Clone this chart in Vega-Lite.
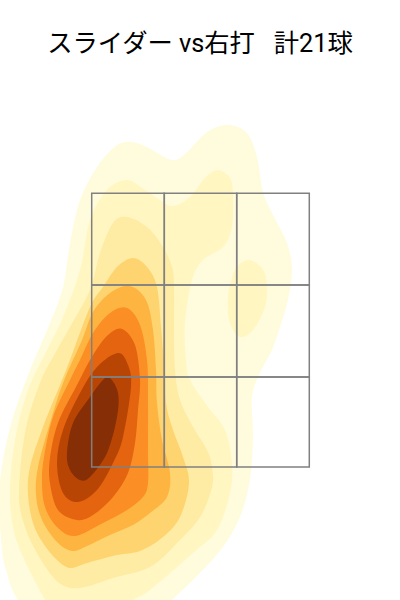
{"$schema":"https://vega.github.io/schema/vega-lite/v6.json","width":400,"height":600,"padding":0,"autosize":"none","background":"white",
"config":{"view":{"stroke":null}},
"title":{"text":"スライダー vs右打\u00a0\u00a0\u00a0計21球","font":"Roboto, 'Noto Sans CJK JP'","fontSize":25.3,"fontWeight":"normal","color":"#000000","anchor":"middle","baseline":"alphabetic","offset":-77},
"datasets":{"cells":[
{"x1":91.7,"x2":164.3,"y1":193.3,"y2":285},{"x1":164.3,"x2":236.7,"y1":193.3,"y2":285},{"x1":236.7,"x2":309.3,"y1":193.3,"y2":285},
{"x1":91.7,"x2":164.3,"y1":285,"y2":377},{"x1":164.3,"x2":236.7,"y1":285,"y2":377},{"x1":236.7,"x2":309.3,"y1":285,"y2":377},
{"x1":91.7,"x2":164.3,"y1":377,"y2":467},{"x1":164.3,"x2":236.7,"y1":377,"y2":467},{"x1":236.7,"x2":309.3,"y1":377,"y2":467}],
"contours":[
{"level":"L1","ring":"L1","seq":1,"x":132,"y":142},{"level":"L1","ring":"L1","seq":2,"x":147,"y":147},{"level":"L1","ring":"L1","seq":3,"x":172,"y":160},{"level":"L1","ring":"L1","seq":4,"x":187,"y":152},{"level":"L1","ring":"L1","seq":5,"x":207,"y":132},{"level":"L1","ring":"L1","seq":6,"x":228,"y":125},{"level":"L1","ring":"L1","seq":7,"x":247,"y":133},{"level":"L1","ring":"L1","seq":8,"x":257,"y":157},{"level":"L1","ring":"L1","seq":9,"x":263,"y":192},{"level":"L1","ring":"L1","seq":10,"x":272,"y":213},{"level":"L1","ring":"L1","seq":11,"x":287,"y":243},{"level":"L1","ring":"L1","seq":12,"x":292,"y":270},{"level":"L1","ring":"L1","seq":13,"x":288,"y":300},{"level":"L1","ring":"L1","seq":14,"x":280,"y":327},{"level":"L1","ring":"L1","seq":15,"x":272,"y":350},{"level":"L1","ring":"L1","seq":16,"x":260,"y":373},{"level":"L1","ring":"L1","seq":17,"x":252,"y":397},{"level":"L1","ring":"L1","seq":18,"x":253,"y":437},{"level":"L1","ring":"L1","seq":19,"x":250,"y":480},{"level":"L1","ring":"L1","seq":20,"x":240,"y":517},{"level":"L1","ring":"L1","seq":21,"x":223,"y":547},{"level":"L1","ring":"L1","seq":22,"x":200,"y":573},{"level":"L1","ring":"L1","seq":23,"x":172,"y":600},{"level":"L1","ring":"L1","seq":24,"x":140,"y":630},{"level":"L1","ring":"L1","seq":25,"x":60,"y":650},{"level":"L1","ring":"L1","seq":26,"x":18,"y":600},{"level":"L1","ring":"L1","seq":27,"x":7,"y":573},{"level":"L1","ring":"L1","seq":28,"x":2,"y":550},{"level":"L1","ring":"L1","seq":29,"x":-1,"y":500},{"level":"L1","ring":"L1","seq":30,"x":3,"y":460},{"level":"L1","ring":"L1","seq":31,"x":13,"y":417},{"level":"L1","ring":"L1","seq":32,"x":30,"y":370},{"level":"L1","ring":"L1","seq":33,"x":50,"y":323},{"level":"L1","ring":"L1","seq":34,"x":63,"y":287},{"level":"L1","ring":"L1","seq":35,"x":70,"y":243},{"level":"L1","ring":"L1","seq":36,"x":80,"y":200},{"level":"L1","ring":"L1","seq":37,"x":97,"y":167},{"level":"L1","ring":"L1","seq":38,"x":117,"y":145},
{"level":"L2","ring":"L2a","seq":1,"x":127,"y":180},{"level":"L2","ring":"L2a","seq":2,"x":145,"y":190},{"level":"L2","ring":"L2a","seq":3,"x":160,"y":200},{"level":"L2","ring":"L2a","seq":4,"x":173,"y":206},{"level":"L2","ring":"L2a","seq":5,"x":190,"y":197},{"level":"L2","ring":"L2a","seq":6,"x":205,"y":178},{"level":"L2","ring":"L2a","seq":7,"x":218,"y":170},{"level":"L2","ring":"L2a","seq":8,"x":230,"y":178},{"level":"L2","ring":"L2a","seq":9,"x":233,"y":195},{"level":"L2","ring":"L2a","seq":10,"x":232,"y":227},{"level":"L2","ring":"L2a","seq":11,"x":223,"y":247},{"level":"L2","ring":"L2a","seq":12,"x":203,"y":260},{"level":"L2","ring":"L2a","seq":13,"x":192,"y":280},{"level":"L2","ring":"L2a","seq":14,"x":185,"y":323},{"level":"L2","ring":"L2a","seq":15,"x":186,"y":360},{"level":"L2","ring":"L2a","seq":16,"x":190,"y":380},{"level":"L2","ring":"L2a","seq":17,"x":208,"y":407},{"level":"L2","ring":"L2a","seq":18,"x":225,"y":430},{"level":"L2","ring":"L2a","seq":19,"x":232,"y":463},{"level":"L2","ring":"L2a","seq":20,"x":230,"y":493},{"level":"L2","ring":"L2a","seq":21,"x":217,"y":530},{"level":"L2","ring":"L2a","seq":22,"x":193,"y":553},{"level":"L2","ring":"L2a","seq":23,"x":150,"y":590},{"level":"L2","ring":"L2a","seq":24,"x":133,"y":600},{"level":"L2","ring":"L2a","seq":25,"x":90,"y":625},{"level":"L2","ring":"L2a","seq":26,"x":60,"y":625},{"level":"L2","ring":"L2a","seq":27,"x":45,"y":600},{"level":"L2","ring":"L2a","seq":28,"x":23,"y":557},{"level":"L2","ring":"L2a","seq":29,"x":13,"y":527},{"level":"L2","ring":"L2a","seq":30,"x":10,"y":490},{"level":"L2","ring":"L2a","seq":31,"x":15,"y":440},{"level":"L2","ring":"L2a","seq":32,"x":28,"y":390},{"level":"L2","ring":"L2a","seq":33,"x":47,"y":350},{"level":"L2","ring":"L2a","seq":34,"x":63,"y":317},{"level":"L2","ring":"L2a","seq":35,"x":80,"y":270},{"level":"L2","ring":"L2a","seq":36,"x":90,"y":220},{"level":"L2","ring":"L2a","seq":37,"x":107,"y":190},
{"level":"L2","ring":"L2b","seq":1,"x":248,"y":260},{"level":"L2","ring":"L2b","seq":2,"x":262,"y":268},{"level":"L2","ring":"L2b","seq":3,"x":267,"y":285},{"level":"L2","ring":"L2b","seq":4,"x":265,"y":307},{"level":"L2","ring":"L2b","seq":5,"x":253,"y":330},{"level":"L2","ring":"L2b","seq":6,"x":240,"y":337},{"level":"L2","ring":"L2b","seq":7,"x":230,"y":323},{"level":"L2","ring":"L2b","seq":8,"x":228,"y":297},{"level":"L2","ring":"L2b","seq":9,"x":235,"y":270},
{"level":"L3","ring":"L3","seq":1,"x":127,"y":217},{"level":"L3","ring":"L3","seq":2,"x":147,"y":227},{"level":"L3","ring":"L3","seq":3,"x":163,"y":247},{"level":"L3","ring":"L3","seq":4,"x":172,"y":267},{"level":"L3","ring":"L3","seq":5,"x":174,"y":287},{"level":"L3","ring":"L3","seq":6,"x":174,"y":330},{"level":"L3","ring":"L3","seq":7,"x":175,"y":370},{"level":"L3","ring":"L3","seq":8,"x":180,"y":400},{"level":"L3","ring":"L3","seq":9,"x":193,"y":427},{"level":"L3","ring":"L3","seq":10,"x":207,"y":450},{"level":"L3","ring":"L3","seq":11,"x":212,"y":467},{"level":"L3","ring":"L3","seq":12,"x":212,"y":487},{"level":"L3","ring":"L3","seq":13,"x":200,"y":517},{"level":"L3","ring":"L3","seq":14,"x":177,"y":543},{"level":"L3","ring":"L3","seq":15,"x":150,"y":567},{"level":"L3","ring":"L3","seq":16,"x":113,"y":578},{"level":"L3","ring":"L3","seq":17,"x":85,"y":587},{"level":"L3","ring":"L3","seq":18,"x":67,"y":587},{"level":"L3","ring":"L3","seq":19,"x":53,"y":577},{"level":"L3","ring":"L3","seq":20,"x":37,"y":553},{"level":"L3","ring":"L3","seq":21,"x":25,"y":527},{"level":"L3","ring":"L3","seq":22,"x":19,"y":495},{"level":"L3","ring":"L3","seq":23,"x":25,"y":433},{"level":"L3","ring":"L3","seq":24,"x":40,"y":383},{"level":"L3","ring":"L3","seq":25,"x":57,"y":350},{"level":"L3","ring":"L3","seq":26,"x":70,"y":327},{"level":"L3","ring":"L3","seq":27,"x":90,"y":290},{"level":"L3","ring":"L3","seq":28,"x":100,"y":253},{"level":"L3","ring":"L3","seq":29,"x":113,"y":223},
{"level":"L4","ring":"L4","seq":1,"x":133,"y":258},{"level":"L4","ring":"L4","seq":2,"x":147,"y":267},{"level":"L4","ring":"L4","seq":3,"x":157,"y":287},{"level":"L4","ring":"L4","seq":4,"x":161,"y":327},{"level":"L4","ring":"L4","seq":5,"x":163,"y":350},{"level":"L4","ring":"L4","seq":6,"x":165,"y":370},{"level":"L4","ring":"L4","seq":7,"x":166,"y":403},{"level":"L4","ring":"L4","seq":8,"x":173,"y":430},{"level":"L4","ring":"L4","seq":9,"x":183,"y":457},{"level":"L4","ring":"L4","seq":10,"x":189,"y":483},{"level":"L4","ring":"L4","seq":11,"x":180,"y":517},{"level":"L4","ring":"L4","seq":12,"x":163,"y":537},{"level":"L4","ring":"L4","seq":13,"x":140,"y":551},{"level":"L4","ring":"L4","seq":14,"x":117,"y":555},{"level":"L4","ring":"L4","seq":15,"x":87,"y":563},{"level":"L4","ring":"L4","seq":16,"x":70,"y":568},{"level":"L4","ring":"L4","seq":17,"x":57,"y":560},{"level":"L4","ring":"L4","seq":18,"x":43,"y":543},{"level":"L4","ring":"L4","seq":19,"x":33,"y":523},{"level":"L4","ring":"L4","seq":20,"x":28,"y":495},{"level":"L4","ring":"L4","seq":21,"x":30,"y":467},{"level":"L4","ring":"L4","seq":22,"x":43,"y":427},{"level":"L4","ring":"L4","seq":23,"x":60,"y":385},{"level":"L4","ring":"L4","seq":24,"x":70,"y":360},{"level":"L4","ring":"L4","seq":25,"x":90,"y":307},{"level":"L4","ring":"L4","seq":26,"x":103,"y":287},{"level":"L4","ring":"L4","seq":27,"x":117,"y":267},
{"level":"L5","ring":"L5","seq":1,"x":130,"y":286},{"level":"L5","ring":"L5","seq":2,"x":146,"y":300},{"level":"L5","ring":"L5","seq":3,"x":153,"y":330},{"level":"L5","ring":"L5","seq":4,"x":156,"y":370},{"level":"L5","ring":"L5","seq":5,"x":157,"y":403},{"level":"L5","ring":"L5","seq":6,"x":162,"y":440},{"level":"L5","ring":"L5","seq":7,"x":170,"y":473},{"level":"L5","ring":"L5","seq":8,"x":167,"y":497},{"level":"L5","ring":"L5","seq":9,"x":150,"y":513},{"level":"L5","ring":"L5","seq":10,"x":133,"y":525},{"level":"L5","ring":"L5","seq":11,"x":110,"y":535},{"level":"L5","ring":"L5","seq":12,"x":87,"y":546},{"level":"L5","ring":"L5","seq":13,"x":72,"y":551},{"level":"L5","ring":"L5","seq":14,"x":57,"y":542},{"level":"L5","ring":"L5","seq":15,"x":42,"y":520},{"level":"L5","ring":"L5","seq":16,"x":36,"y":495},{"level":"L5","ring":"L5","seq":17,"x":38,"y":467},{"level":"L5","ring":"L5","seq":18,"x":50,"y":423},{"level":"L5","ring":"L5","seq":19,"x":63,"y":383},{"level":"L5","ring":"L5","seq":20,"x":82,"y":340},{"level":"L5","ring":"L5","seq":21,"x":93,"y":312},{"level":"L5","ring":"L5","seq":22,"x":110,"y":293},
{"level":"L6","ring":"L6","seq":1,"x":127,"y":308},{"level":"L6","ring":"L6","seq":2,"x":140,"y":325},{"level":"L6","ring":"L6","seq":3,"x":147,"y":360},{"level":"L6","ring":"L6","seq":4,"x":148,"y":400},{"level":"L6","ring":"L6","seq":5,"x":148,"y":450},{"level":"L6","ring":"L6","seq":6,"x":148,"y":483},{"level":"L6","ring":"L6","seq":7,"x":143,"y":497},{"level":"L6","ring":"L6","seq":8,"x":127,"y":510},{"level":"L6","ring":"L6","seq":9,"x":103,"y":523},{"level":"L6","ring":"L6","seq":10,"x":75,"y":536},{"level":"L6","ring":"L6","seq":11,"x":57,"y":527},{"level":"L6","ring":"L6","seq":12,"x":45,"y":507},{"level":"L6","ring":"L6","seq":13,"x":42,"y":483},{"level":"L6","ring":"L6","seq":14,"x":44,"y":457},{"level":"L6","ring":"L6","seq":15,"x":53,"y":417},{"level":"L6","ring":"L6","seq":16,"x":70,"y":380},{"level":"L6","ring":"L6","seq":17,"x":80,"y":360},{"level":"L6","ring":"L6","seq":18,"x":93,"y":333},{"level":"L6","ring":"L6","seq":19,"x":110,"y":313},
{"level":"L7","ring":"L7","seq":1,"x":122,"y":329},{"level":"L7","ring":"L7","seq":2,"x":135,"y":345},{"level":"L7","ring":"L7","seq":3,"x":140,"y":380},{"level":"L7","ring":"L7","seq":4,"x":138,"y":410},{"level":"L7","ring":"L7","seq":5,"x":135,"y":443},{"level":"L7","ring":"L7","seq":6,"x":128,"y":473},{"level":"L7","ring":"L7","seq":7,"x":113,"y":497},{"level":"L7","ring":"L7","seq":8,"x":93,"y":515},{"level":"L7","ring":"L7","seq":9,"x":77,"y":520},{"level":"L7","ring":"L7","seq":10,"x":58,"y":510},{"level":"L7","ring":"L7","seq":11,"x":50,"y":483},{"level":"L7","ring":"L7","seq":12,"x":50,"y":458},{"level":"L7","ring":"L7","seq":13,"x":58,"y":423},{"level":"L7","ring":"L7","seq":14,"x":77,"y":385},{"level":"L7","ring":"L7","seq":15,"x":93,"y":355},{"level":"L7","ring":"L7","seq":16,"x":108,"y":335},
{"level":"L8","ring":"L8","seq":1,"x":118,"y":353},{"level":"L8","ring":"L8","seq":2,"x":128,"y":365},{"level":"L8","ring":"L8","seq":3,"x":131,"y":387},{"level":"L8","ring":"L8","seq":4,"x":123,"y":437},{"level":"L8","ring":"L8","seq":5,"x":113,"y":463},{"level":"L8","ring":"L8","seq":6,"x":97,"y":490},{"level":"L8","ring":"L8","seq":7,"x":78,"y":502},{"level":"L8","ring":"L8","seq":8,"x":63,"y":493},{"level":"L8","ring":"L8","seq":9,"x":57,"y":463},{"level":"L8","ring":"L8","seq":10,"x":63,"y":430},{"level":"L8","ring":"L8","seq":11,"x":80,"y":393},{"level":"L8","ring":"L8","seq":12,"x":97,"y":367},
{"level":"L9","ring":"L9","seq":1,"x":110,"y":378},{"level":"L9","ring":"L9","seq":2,"x":118,"y":393},{"level":"L9","ring":"L9","seq":3,"x":117,"y":417},{"level":"L9","ring":"L9","seq":4,"x":107,"y":453},{"level":"L9","ring":"L9","seq":5,"x":90,"y":477},{"level":"L9","ring":"L9","seq":6,"x":80,"y":480},{"level":"L9","ring":"L9","seq":7,"x":70,"y":470},{"level":"L9","ring":"L9","seq":8,"x":67,"y":453},{"level":"L9","ring":"L9","seq":9,"x":73,"y":423},{"level":"L9","ring":"L9","seq":10,"x":90,"y":397},{"level":"L9","ring":"L9","seq":11,"x":103,"y":380}
]},
"layer":[
{"data":{"name":"contours"},
"mark":{"type":"line","interpolate":"cardinal-closed","clip":true,"strokeWidth":0,"fillOpacity":1},
"encoding":{
"x":{"field":"x","type":"quantitative","scale":{"domain":[0,400],"nice":false,"zero":false},"axis":null},
"y":{"field":"y","type":"quantitative","scale":{"domain":[600,0],"nice":false,"zero":false},"axis":null},
"fill":{"field":"level","type":"nominal","legend":null,"scale":{"domain":["L1","L2","L3","L4","L5","L6","L7","L8","L9"],"range":["#FFFCDE","#FFF6C1","#FEEBA4","#FED470","#FEB441","#FB8E24","#E4640F","#B94504","#862E06"]}},
"detail":{"field":"ring"},
"order":{"field":"seq","type":"quantitative"}}},
{"data":{"name":"cells"},
"mark":{"type":"rect","fill":null,"stroke":"#808080","strokeWidth":1.5},
"encoding":{
"x":{"field":"x1","type":"quantitative","scale":{"domain":[0,400],"nice":false,"zero":false},"axis":null},
"x2":{"field":"x2"},
"y":{"field":"y1","type":"quantitative","scale":{"domain":[600,0],"nice":false,"zero":false},"axis":null},
"y2":{"field":"y2"}}}
]}
